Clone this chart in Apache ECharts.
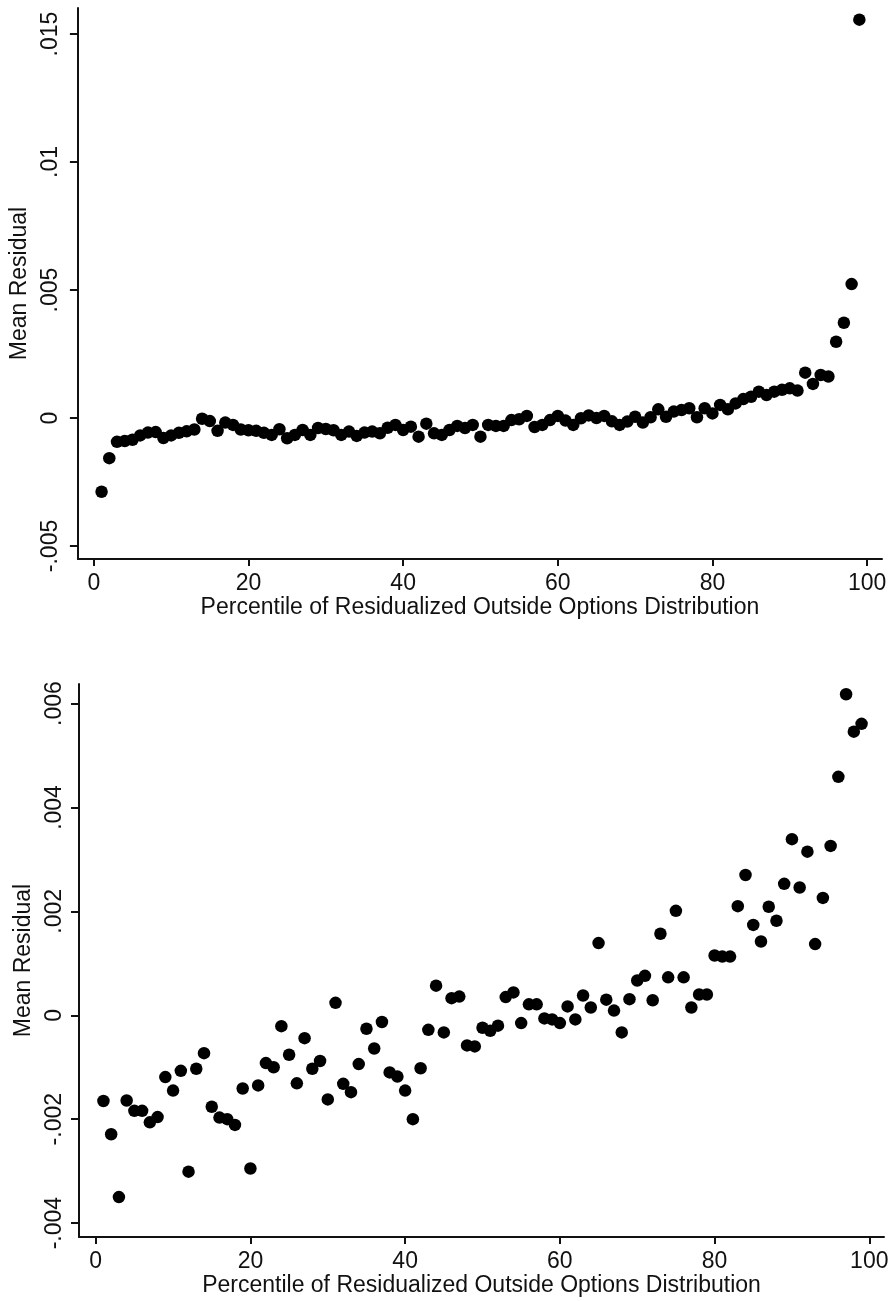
<!DOCTYPE html>
<html>
<head>
<meta charset="utf-8">
<script src="https://cdn.jsdelivr.net/npm/echarts@6/dist/echarts.min.js"></script>
<style>
  html, body { margin: 0; padding: 0; background: #fff; }
  #chart { width: 893px; height: 1301px; }
</style>
</head>
<body>
<div id="chart"></div>
<script>
// Percentiles 1..99 of the residualized outside options distribution
const percentiles = Array.from({ length: 99 }, (_, i) => i + 1);

// Panel A: mean residual by percentile
const residualTop = [
  -0.00288, -0.00157, -0.00093, -0.00090, -0.00085, -0.00068, -0.00057, -0.00055, -0.00078, -0.00068,
  -0.00058, -0.00052, -0.00045, -0.00003, -0.00012, -0.00050, -0.00018, -0.00027, -0.00045, -0.00048,
  -0.00050, -0.00058, -0.00066, -0.00044, -0.00079, -0.00066, -0.00047, -0.00066, -0.00039, -0.00043,
  -0.00048, -0.00066, -0.00053, -0.00070, -0.00057, -0.00053, -0.00060, -0.00038, -0.00027, -0.00047,
  -0.00034, -0.00073, -0.00022, -0.00060, -0.00066, -0.00047, -0.00031, -0.00039, -0.00027, -0.00073,
  -0.00027, -0.00031, -0.00031, -0.00008, -0.00005, 0.00008, -0.00035, -0.00027, -0.00008, 0.00008,
  -0.00010, -0.00027, -0.00001, 0.00010, 0.00000, 0.00008, -0.00013, -0.00027, -0.00014, 0.00005,
  -0.00018, 0.00003, 0.00034, 0.00005, 0.00025, 0.00031, 0.00038, 0.00003, 0.00038, 0.00018,
  0.00051, 0.00034, 0.00057, 0.00074, 0.00083, 0.00103, 0.00090, 0.00103, 0.00110, 0.00116,
  0.00107, 0.00177, 0.00133, 0.00168, 0.00162, 0.00298, 0.00372, 0.00523, 0.01556
];

// Panel B: mean residual by percentile
const residualBottom = [
  -0.00165, -0.00229, -0.00350, -0.00164, -0.00184, -0.00184, -0.00206, -0.00196, -0.00119, -0.00145,
  -0.00107, -0.00301, -0.00103, -0.00073, -0.00176, -0.00197, -0.00200, -0.00211, -0.00141, -0.00295,
  -0.00135, -0.00092, -0.00100, -0.00021, -0.00076, -0.00131, -0.00044, -0.00103, -0.00088, -0.00162,
  0.00024, -0.00132, -0.00148, -0.00094, -0.00026, -0.00064, -0.00013, -0.00110, -0.00118, -0.00145,
  -0.00200, -0.00102, -0.00028, 0.00057, -0.00033, 0.00033, 0.00036, -0.00058, -0.00060, -0.00024,
  -0.00030, -0.00020, 0.00035, 0.00044, -0.00015, 0.00021, 0.00021, -0.00006, -0.00008, -0.00015,
  0.00017, -0.00008, 0.00038, 0.00015, 0.00139, 0.00030, 0.00009, -0.00033, 0.00031, 0.00067,
  0.00076, 0.00029, 0.00157, 0.00073, 0.00201, 0.00073, 0.00015, 0.00040, 0.00040, 0.00115,
  0.00113, 0.00113, 0.00210, 0.00270, 0.00174, 0.00142, 0.00209, 0.00182, 0.00253, 0.00339,
  0.00246, 0.00315, 0.00137, 0.00226, 0.00326, 0.00459, 0.00618, 0.00546, 0.00561
];

// Tick positions
const xTicks = [0, 20, 40, 60, 80, 100];
const yTicksTop = [-0.005, 0, 0.005, 0.01, 0.015];
const yTicksBottom = [-0.004, -0.002, 0, 0.002, 0.004, 0.006];

const xTitle = 'Percentile of Residualized Outside Options Distribution';
const yTitle = 'Mean Residual';

// Stata-style number labels: drop the leading zero (0.005 -> .005)
function stataFmt(v) {
  if (Math.abs(v) < 1e-12) return '0';
  return String(+v.toFixed(4)).replace('0.', '.');
}

const FONT = '"Liberation Sans", Arial, sans-serif';
const INK = '#111';
const FS = 23;

function xAxisFor(gridIndex, min, max, labelMargin, nameGap) {
  return {
    type: 'value', gridIndex, min, max,
    name: xTitle, nameLocation: 'middle', nameGap,
    nameTextStyle: { fontFamily: FONT, fontSize: FS, color: INK },
    axisLine: { show: true, onZero: false, lineStyle: { color: INK, width: 2 } },
    axisTick: { show: true, length: 7, lineStyle: { color: INK, width: 2 }, customValues: xTicks },
    axisLabel: { fontFamily: FONT, fontSize: FS, color: INK, margin: labelMargin, customValues: xTicks, formatter: v => String(v) },
    splitLine: { show: false }
  };
}

function yAxisFor(gridIndex, min, max, ticks, labelMargin, nameGap) {
  return {
    type: 'value', gridIndex, min, max,
    name: yTitle, nameLocation: 'middle', nameGap,
    nameTextStyle: { fontFamily: FONT, fontSize: FS, color: INK },
    axisLine: { show: true, onZero: false, lineStyle: { color: INK, width: 2 } },
    axisTick: { show: true, length: 8, lineStyle: { color: INK, width: 2 }, customValues: ticks },
    axisLabel: { fontFamily: FONT, fontSize: FS, color: INK, rotate: 90, margin: labelMargin, customValues: ticks, formatter: stataFmt },
    splitLine: { show: false }
  };
}

const chart = echarts.init(document.getElementById('chart'), null, { renderer: 'canvas' });
chart.setOption({
  animation: false,
  backgroundColor: '#fff',
  grid: [
    { left: 75, top: 8, width: 807, height: 551 },
    { left: 79, top: 684, width: 805, height: 553 }
  ],
  xAxis: [
    xAxisFor(0, -2.06, 101.93, 13, 34),
    xAxisFor(1, -2.16, 101.9, 13, 36)
  ],
  yAxis: [
    yAxisFor(0, -0.005508, 0.016016, yTicksTop, 16, 36),
    yAxisFor(1, -0.004268, 0.006377, yTicksBottom, 13, 39)
  ],
  series: [
    {
      type: 'scatter', xAxisIndex: 0, yAxisIndex: 0,
      symbol: 'circle', symbolSize: 12.5,
      itemStyle: { color: '#000', opacity: 1 },
      data: percentiles.map((p, i) => [p, residualTop[i]])
    },
    {
      type: 'scatter', xAxisIndex: 1, yAxisIndex: 1,
      symbol: 'circle', symbolSize: 12.5,
      itemStyle: { color: '#000', opacity: 1 },
      data: percentiles.map((p, i) => [p, residualBottom[i]])
    }
  ]
});
</script>
</body>
</html>
